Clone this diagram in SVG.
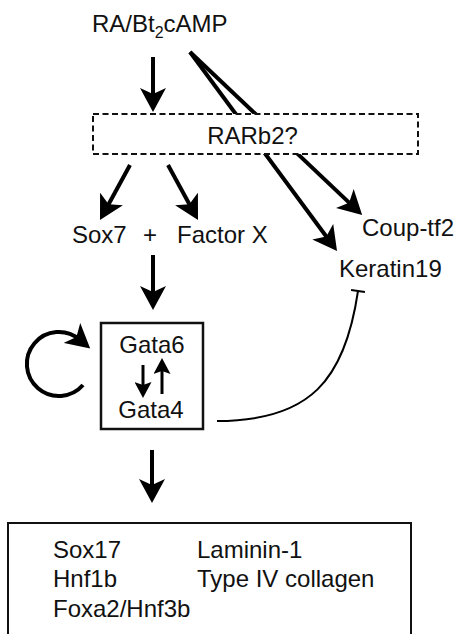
<svg xmlns="http://www.w3.org/2000/svg" width="457" height="634" viewBox="0 0 457 634">
<defs>
<style>
text{font-family:"Liberation Sans",Arial,sans-serif;font-size:24px;fill:#111}
.c{fill:none;stroke:#000;stroke-width:4}
.cs{fill:none;stroke:#000;stroke-width:3}
.box{fill:#fff;stroke:#111;stroke-width:2.5}
</style>
<marker id="ah" viewBox="0 0 24 26" refX="10" refY="13" markerWidth="24" markerHeight="26" markerUnits="userSpaceOnUse" orient="auto"><path d="M0,0 L24,13 L0,26 L6,13 Z" fill="#000"/></marker>
<marker id="ahs" viewBox="0 0 16 17" refX="6" refY="8.5" markerWidth="16" markerHeight="17" markerUnits="userSpaceOnUse" orient="auto"><path d="M0,0 L16,8.5 L0,17 L3,8.5 Z" fill="#000"/></marker>
<marker id="tee" viewBox="0 0 4 14" refX="2" refY="7" markerWidth="4" markerHeight="14" markerUnits="userSpaceOnUse" orient="auto"><path d="M2,0 L2,14" stroke="#000" stroke-width="2.2"/></marker>
</defs>
<g id="connectors">
<line class="c" x1="153" y1="57" x2="153" y2="98" marker-end="url(#ah)"/>
<line class="c" x1="190" y1="52" x2="328.7" y2="239.7" marker-end="url(#ah)"/>
<line class="c" x1="190" y1="52" x2="352" y2="205.4" marker-end="url(#ah)"/>
<line class="c" x1="130" y1="165" x2="106.7" y2="207.7" marker-end="url(#ah)"/>
<line class="c" x1="168" y1="165" x2="191.3" y2="207.7" marker-end="url(#ah)"/>
<line class="c" x1="153" y1="255" x2="153" y2="296" marker-end="url(#ah)"/>
<line class="c" x1="152" y1="450" x2="152" y2="489" marker-end="url(#ah)"/>
<path class="c" d="M83,385 A32,32 0 1 1 79.5,339.5" marker-end="url(#ah)"/>
<path fill="none" stroke="#000" stroke-width="2" d="M217,421 C310,421 345,380 358,291" marker-end="url(#tee)"/>
</g>
<g id="ra"><text x="92" y="32">RA/Bt<tspan font-size="16" dy="6">2</tspan><tspan dy="-6">cAMP</tspan></text></g>
<g id="rarb2">
<rect x="93" y="114" width="325" height="40" fill="#fff" stroke="#111" stroke-width="2" stroke-dasharray="6 3.5"/>
<text x="252.5" y="144" text-anchor="middle">RARb2?</text>
</g>
<g id="sox7"><text x="72" y="243">Sox7</text></g>
<g id="plus"><text x="150" y="243" text-anchor="middle" font-size="17">+</text></g>
<g id="factorx"><text x="177" y="243">Factor X</text></g>
<g id="couptf2"><text x="362" y="236">Coup-tf2</text></g>
<g id="keratin19"><text x="339" y="277">Keratin19</text></g>
<g id="gata">
<rect class="box" x="101" y="323" width="102" height="106"/>
<text x="152" y="353" text-anchor="middle">Gata6</text>
<text x="151" y="418" text-anchor="middle">Gata4</text>
<line class="cs" x1="143" y1="365" x2="143" y2="388" marker-end="url(#ahs)"/>
<line class="cs" x1="162" y1="394" x2="162" y2="368" marker-end="url(#ahs)"/>
</g>
<g id="targets">
<rect x="8" y="523" width="403" height="125" fill="#fff" stroke="#111" stroke-width="2"/>
<text x="53" y="558">Sox17</text>
<text x="53" y="587">Hnf1b</text>
<text x="53" y="617">Foxa2/Hnf3b</text>
<text x="197" y="558">Laminin-1</text>
<text x="197" y="587">Type IV collagen</text>
</g>
</svg>
